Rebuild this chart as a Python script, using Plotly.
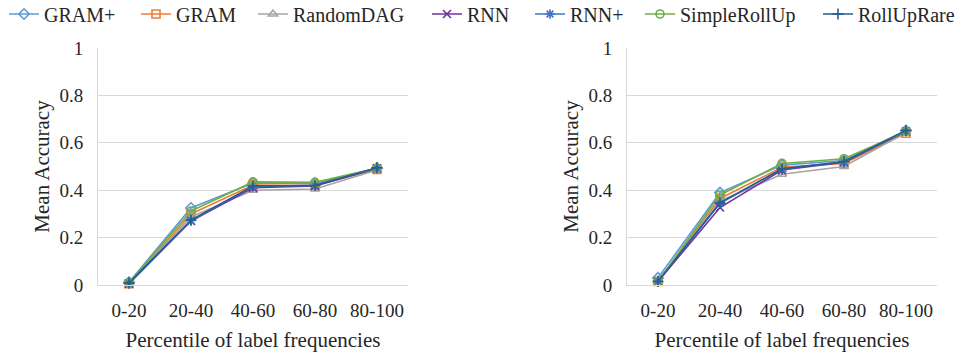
import plotly.graph_objects as go

categories = ["0-20", "20-40", "40-60", "60-80", "80-100"]
series_names = ["GRAM+", "GRAM", "RandomDAG", "RNN", "RNN+", "SimpleRollUp", "RollUpRare"]

# Left panel values
left_gram_plus = [0.012, 0.325, 0.430, 0.430, 0.493]
left_gram = [0.005, 0.300, 0.422, 0.420, 0.488]
left_randomdag = [0.008, 0.287, 0.400, 0.405, 0.485]
left_rnn = [0.006, 0.270, 0.410, 0.418, 0.492]
left_rnn_plus = [0.008, 0.272, 0.415, 0.422, 0.494]
left_simplerollup = [0.010, 0.312, 0.435, 0.433, 0.492]
left_rolluprare = [0.008, 0.274, 0.418, 0.420, 0.495]

# Right panel values
right_gram_plus = [0.030, 0.390, 0.506, 0.525, 0.652]
right_gram = [0.015, 0.365, 0.497, 0.513, 0.640]
right_randomdag = [0.015, 0.355, 0.467, 0.500, 0.643]
right_rnn = [0.015, 0.327, 0.485, 0.518, 0.648]
right_rnn_plus = [0.018, 0.345, 0.490, 0.520, 0.650]
right_simplerollup = [0.015, 0.380, 0.513, 0.533, 0.648]
right_rolluprare = [0.015, 0.347, 0.490, 0.520, 0.652]

left_values = [left_gram_plus, left_gram, left_randomdag, left_rnn,
               left_rnn_plus, left_simplerollup, left_rolluprare]
right_values = [right_gram_plus, right_gram, right_randomdag, right_rnn,
                right_rnn_plus, right_simplerollup, right_rolluprare]

y_ticks = [0, 0.2, 0.4, 0.6, 0.8, 1]
y_ticklabels = ["0", "0.2", "0.4", "0.6", "0.8", "1"]
x_title = "Percentile of label frequencies"
y_title = "Mean Accuracy"

colors = ["#5B9BD5", "#ED7D31", "#A5A5A5", "#7030A0", "#4472C4", "#70AD47", "#255E91"]
symbols = ["diamond-open", "square-open", "triangle-up-open", "x-thin-open",
           "asterisk-open", "circle-open", "cross-thin-open"]
legend_text_px = [44, 176, 293, 467, 570, 680, 858]

W, H = 961, 356
FONT = "Liberation Serif, Times New Roman, serif"
TXT = "#262626"

fig = go.Figure()

for i, name in enumerate(series_names):
    lg = "legend" if i == 0 else f"legend{i+1}"
    common = dict(
        mode="lines+markers",
        line=dict(color=colors[i], width=1.6),
        marker=dict(symbol=symbols[i], size=8, color=colors[i],
                    line=dict(color=colors[i], width=1.6)),
        cliponaxis=False,
    )
    fig.add_trace(go.Scatter(x=categories, y=left_values[i], name=name,
                             xaxis="x", yaxis="y", legend=lg, showlegend=True,
                             **common))
    fig.add_trace(go.Scatter(x=categories, y=right_values[i], name=name,
                             xaxis="x2", yaxis="y2", showlegend=False, **common))

y_bottom = (H - 285) / H
y_top = (H - 48) / H

xax = dict(type="category", range=[-0.5, 4.5], showgrid=False, showline=True,
           linecolor="#D9D9D9", linewidth=1, ticks="", zeroline=False,
           tickfont=dict(family=FONT, size=19, color=TXT),
           ticklabelstandoff=8, automargin=False,
           title=dict(text=x_title, font=dict(family=FONT, size=21, color=TXT), standoff=12))
yax = dict(range=[0, 1], tickvals=y_ticks, ticktext=y_ticklabels, showgrid=True,
           gridcolor="#D9D9D9", gridwidth=1, showline=True, linecolor="#D9D9D9",
           zeroline=False, ticks="", domain=[y_bottom, y_top],
           tickfont=dict(family=FONT, size=19, color=TXT),
           ticklabelstandoff=10, automargin=False,
           title=dict(text=y_title, font=dict(family=FONT, size=21, color=TXT), standoff=4))

layout = dict(
    width=W, height=H,
    margin=dict(l=0, r=0, t=0, b=0, autoexpand=False),
    paper_bgcolor="white", plot_bgcolor="white",
    font=dict(family=FONT, color=TXT),
    hovermode=False,
    xaxis=dict(domain=[98 / W, 408 / W], anchor="y", **xax),
    yaxis=dict(anchor="x", **yax),
    xaxis2=dict(domain=[627 / W, 937 / W], anchor="y2", **xax),
    yaxis2=dict(anchor="x2", **yax),
)

for i in range(len(series_names)):
    key = "legend" if i == 0 else f"legend{i+1}"
    layout[key] = dict(
        x=(legend_text_px[i] - 40) / W, xanchor="left",
        y=(H - 14) / H, yanchor="middle",
        orientation="h", bgcolor="rgba(0,0,0,0)", borderwidth=0,
        font=dict(family=FONT, size=20, color=TXT),
    )

fig.update_layout(**layout)
fig.write_html("out.html",
               config={"displayModeBar": False},
               post_script="document.body.style.margin='0';document.body.style.overflow='hidden';")
